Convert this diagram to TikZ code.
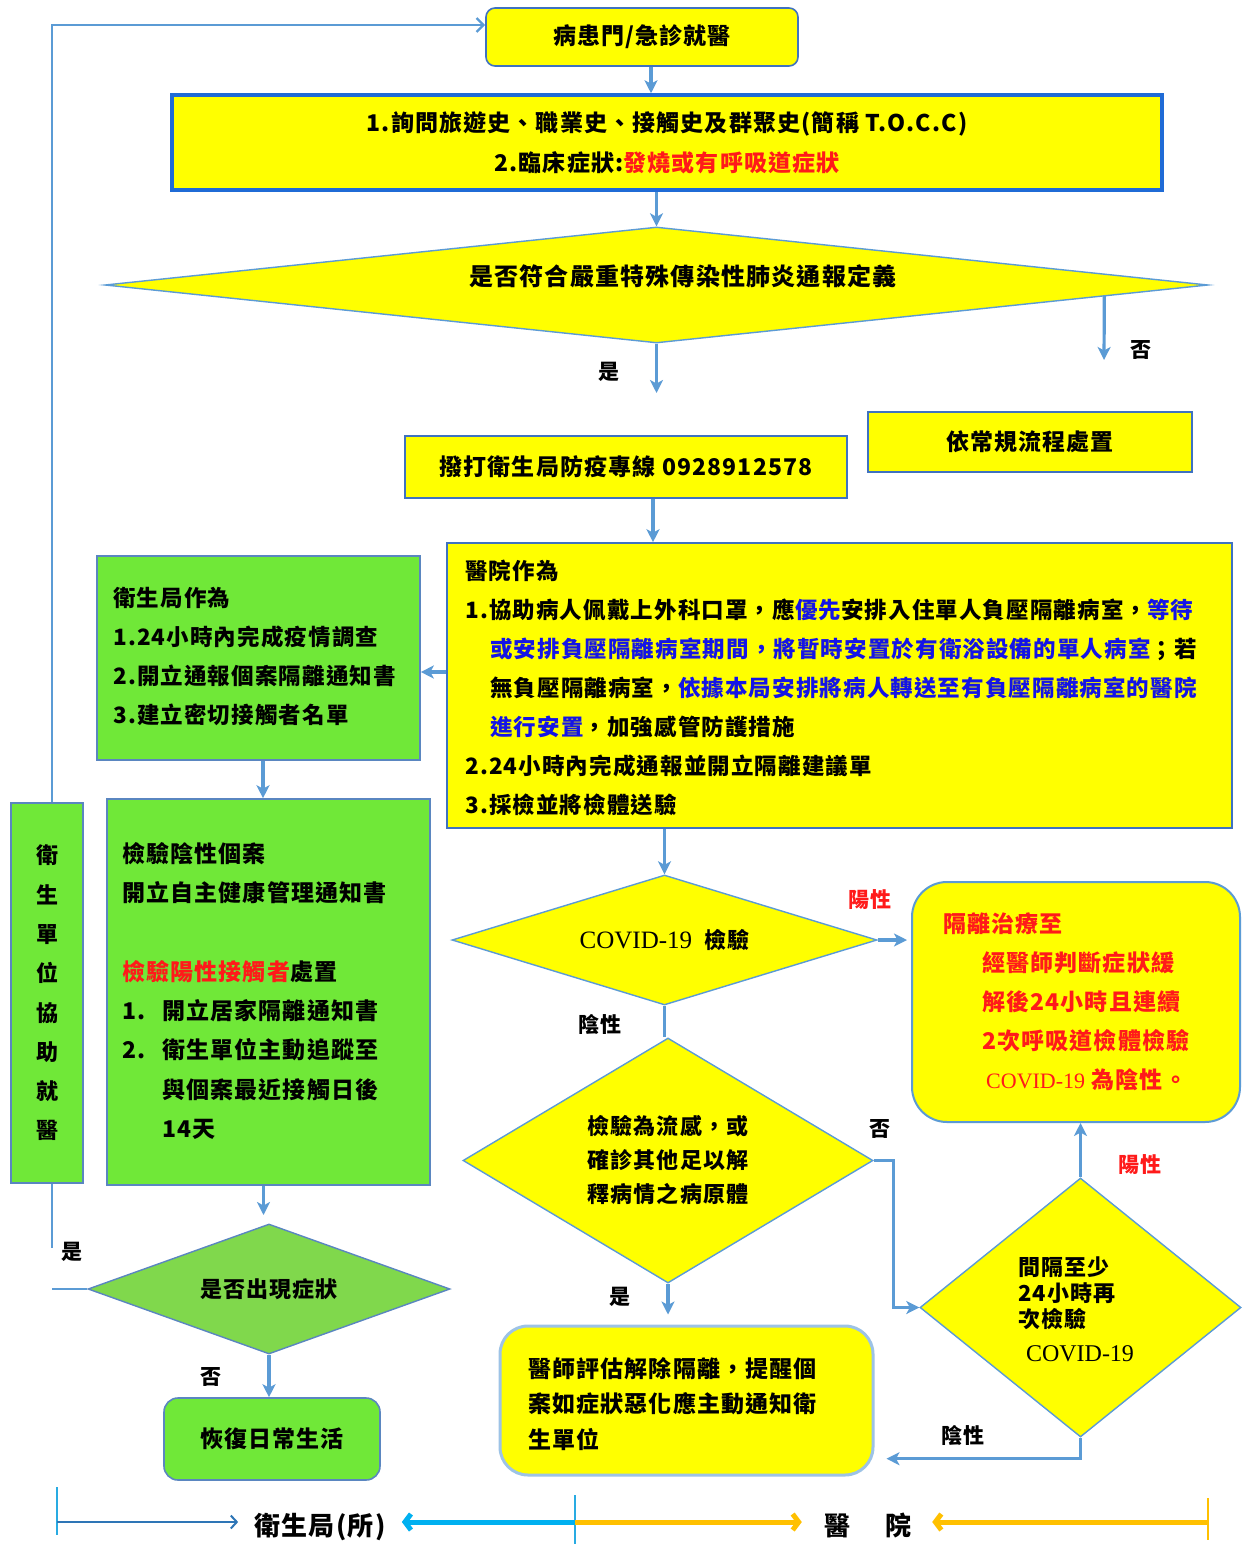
\documentclass[tikz,border=0pt]{standalone}
\usepackage{fontspec}
\setmainfont{Noto Sans CJK TC}[LetterSpace=5]
\newfontfamily\tnr{Liberation Serif}
\usetikzlibrary{shapes.geometric,arrows.meta,calc}
\definecolor{yel}{HTML}{FFFF00}
\definecolor{grn}{HTML}{70E838}
\definecolor{grntwo}{HTML}{80D84C}
\definecolor{bordb}{HTML}{3F72C0}
\definecolor{bordg}{HTML}{5A86C0}
\definecolor{arrc}{HTML}{5B9BD5}
\definecolor{bdark}{HTML}{1F6BD6}
\definecolor{lightb}{HTML}{9DC3E6}
\definecolor{txtblue}{HTML}{1414E6}
\definecolor{txtred}{HTML}{FF1A1A}
\definecolor{cyanl}{HTML}{00B0F0}
\definecolor{tickc}{HTML}{29ABE2}
\definecolor{oran}{HTML}{FFC000}
\definecolor{legblue}{HTML}{2E75B6}
\newcommand{\myfs}[2]{\fontsize{#1}{#2}\selectfont\bfseries}
\begin{document}
\begin{tikzpicture}[x=1pt,y=-1pt,
  ybox/.style={draw=bordb, line width=1.6pt, fill=yel, inner sep=0pt},
  gbox/.style={draw=bordg, line width=1.6pt, fill=grn, inner sep=0pt},
  dia/.style={diamond, draw=arrc, line width=1.4pt, fill=yel, inner sep=0pt},
  arr/.style={draw=arrc, line width=3.2pt, -{Stealth[length=13pt,width=13pt,inset=3.5pt]}},
  conn/.style={draw=arrc, line width=3.2pt},
  arrthin/.style={draw=arrc, line width=2.4pt, -{Straight Barb[length=7pt,width=14pt]}},
  lbl/.style={font=\myfs{21}{21}, inner sep=0pt},
  txt/.style={inner sep=0pt, align=left, anchor=north west}
]
\fill[white] (0,0) rectangle (1243,1544);
\useasboundingbox (0,0) rectangle (1243,1544);

% ---------- top flow ----------
\node[ybox, rounded corners=9pt, minimum width=312pt, minimum height=58pt, font=\myfs{23}{23}] (A) at (642,37) {病患門/急診就醫};
\node[ybox, draw=bdark, line width=3.5pt, minimum width=990pt, minimum height=95pt, align=center, font=\myfs{23}{40}] (B) at (667,142.5)
  {1.詢問旅遊史、職業史、接觸史及群聚史(簡稱 T.O.C.C)\\2.臨床症狀:\textcolor{txtred}{發燒或有呼吸道症狀}};
\node[dia, aspect=9.5, minimum width=1103pt, minimum height=116pt] (C) at (656.5,285) {};
\node[font=\myfs{24}{24}, inner sep=0pt] (Ct) at (683,276) {是否符合嚴重特殊傳染性肺炎通報定義};
\node[ybox, minimum width=442pt, minimum height=62pt, font=\myfs{23}{23}] (D) at (626,467) {撥打衛生局防疫專線 0928912578};
\node[ybox, minimum width=324pt, minimum height=60pt, font=\myfs{23}{23}] (E) at (1030,442) {依常規流程處置};

\coordinate (yesC) at (656.5,393);
\coordinate (noC) at (1104,360);

\draw[arr] ([xshift=9pt]A.south) -- ([xshift=9pt]A.south |- B.north);
\draw[arr] (C.north |- B.south) -- (C.north);
\draw[arr] (C.south) -- (yesC);
\draw[arr] ($(C.south)!0.811!(C.east)$) -- (noC);
\node[lbl] (l1) at (609,372) {是};
\node[lbl] (l2) at (1141,350) {否};

% ---------- hospital actions ----------
\node[ybox, minimum width=785pt, minimum height=285pt] (F) at (839.5,685.5) {};
\node[txt, font=\myfs{22.5}{39}] (Ft) at (465,560) {醫院作為\\
1.協助病人佩戴上外科口罩，應\textcolor{txtblue}{優先}安排入住單人負壓隔離病室，\textcolor{txtblue}{等待}\\
\hspace*{25pt}\textcolor{txtblue}{或安排負壓隔離病室期間，將暫時安置於有衛浴設備的單人病室}；若\\
\hspace*{25pt}無負壓隔離病室，\textcolor{txtblue}{依據本局安排將病人轉送至有負壓隔離病室的醫院}\\
\hspace*{25pt}\textcolor{txtblue}{進行安置}，加強感管防護措施\\
2.24小時內完成通報並開立隔離建議單\\
3.採檢並將檢體送驗};

\draw[arr] ([xshift=27pt]D.south) -- ([xshift=27pt]D.south |- F.north);

% ---------- health bureau ----------
\node[gbox, minimum width=323pt, minimum height=204pt] (G) at (258.5,658) {};
\node[txt, font=\myfs{22.5}{39}] (Gt) at (113,587) {衛生局作為\\1.24小時內完成疫情調查\\2.開立通報個案隔離通知書\\3.建立密切接觸者名單};
\draw[arr] ([yshift=13.5pt]F.west) -- ([yshift=13.5pt]F.west -| G.east);

\node[gbox, minimum width=323pt, minimum height=386pt] (H) at (268.5,992) {};
\node[txt, font=\myfs{23}{39.3}] (Ht) at (122,842) {檢驗陰性個案\\開立自主健康管理通知書\\\mbox{}\\
\textcolor{txtred}{檢驗陽性接觸者}處置\\
\makebox[40pt][l]{1.}開立居家隔離通知書\\
\makebox[40pt][l]{2.}衛生單位主動追蹤至\\
\hspace*{40pt}與個案最近接觸日後\\
\hspace*{40pt}14天};
\draw[arr] ([xshift=4.5pt]G.south) -- ([xshift=4.5pt]G.south |- H.north);

\node[gbox, minimum width=72pt, minimum height=380pt, align=center, font=\myfs{22}{39.3}] (I) at (47,993) {衛\\生\\單\\位\\協\\助\\就\\醫};

\node[dia, aspect=2.78, fill=grntwo, draw=bordg, minimum width=362pt, minimum height=130pt, font=\myfs{22}{22}] (J) at (269,1289) {是否出現症狀};
\node[gbox, rounded corners=14pt, minimum width=216pt, minimum height=82pt, font=\myfs{23}{23}] (K) at (272,1439) {恢復日常生活};

\draw[arr] ([xshift=-5pt]H.south) -- ([xshift=-5pt]H.south |- 0,1215);
\draw[arr] (J.south) -- (J.south |- K.north);
\coordinate (yesJ) at (52,1289);
\coordinate (Iend) at (52,1248);
\draw[conn, line width=2pt] (J.west) -- (yesJ);
\draw[conn, line width=2.4pt] ([xshift=5pt]I.south) -- (Iend);
\draw[arrthin] ([xshift=5pt]I.north) |- ([yshift=12pt]A.west);
\node[lbl] (l3) at (72,1252) {是};
\node[lbl] (l4) at (211,1377) {否};

% ---------- testing ----------
\node[dia, aspect=3.27, minimum width=425pt, minimum height=130pt, font=\myfs{22}{22}] (L) at (664.5,940)
  {{\tnr\mdseries\fontsize{25}{25}\selectfont COVID-19}\hspace{12pt}檢驗};
\node[ybox, draw=arrc, line width=2pt, rounded corners=35pt, minimum width=328pt, minimum height=240pt] (M) at (1076,1002) {};
\node[txt, font=\myfs{23}{39}, text=txtred] (Mt) at (943,912) {隔離治療至\\
\hspace*{39pt}經醫師判斷症狀緩\\
\hspace*{39pt}解後24小時且連續\\
\hspace*{39pt}2次呼吸道檢體檢驗\\
\hspace*{43pt}{\tnr\mdseries\fontsize{22}{39}\selectfont COVID-19} 為陰性。};
\node[dia, aspect=1.67, minimum width=410pt, minimum height=245pt, align=left, font=\myfs{22}{34}] (N) at (668,1160.5)
  {檢驗為流感，或\\確診其他足以解\\釋病情之病原體};
\node[dia, aspect=1.24, minimum width=321pt, minimum height=259pt] (P) at (1080.5,1307.5) {};
\node[txt, font=\myfs{22}{26}] (Pt) at (1018,1257) {間隔至少\\24小時再\\次檢驗};
\node[inner sep=0pt, font=\tnr\fontsize{24}{24}\selectfont] (Pc) at (1080,1354) {COVID-19};
\node[ybox, draw=lightb, line width=3pt, rounded corners=28pt, minimum width=373pt, minimum height=149pt] (O) at (686.5,1400.5) {};
\node[txt, font=\myfs{23}{35.5}] (Ot) at (528,1357) {醫師評估解除隔離，提醒個\\案如症狀惡化應主動通知衛\\生單位};

\draw[arr] (L.north |- F.south) -- (L.north);
\draw[arr] (L.east) -- ([xshift=-4pt]L.east -| M.west);
\draw[conn] (L.south) -- (L.south |- N.north);
\draw[arr] (N.south) -- ([yshift=10pt]N.south |- O.north);
\draw[arr] (N.east) -- ++(20,0) |- (P.west);
\draw[arr] (P.north) -- (P.north |- M.south);
\coordinate (pb) at ($(P.south)+(0,21)$);
\draw[arr] (P.south) -- (pb) -- ([xshift=12pt]pb -| O.east);

\node[lbl, text=txtred] (l5) at (870,900) {陽性};
\node[lbl] (l6) at (600,1025) {陰性};
\node[lbl] (l7) at (880,1129) {否};
\node[lbl] (l8) at (620,1297) {是};
\node[lbl, text=txtred] (l9) at (1140,1165) {陽性};
\node[lbl] (l10) at (963,1436) {陰性};

% ---------- legend ----------
\node[inner sep=0pt, font=\myfs{26}{26}] (LG1) at (320,1527) {衛生局(所)};
\node[inner sep=0pt, font=\myfs{26}{26}] (LG2) at (868,1525) {醫\hspace{36pt}院};
\coordinate (t1) at (57,1522);
\coordinate (t2) at (575,1522);
\coordinate (t3) at (1208,1522);
\draw[tickc, line width=1.5pt] (57,1487) -- (57,1535);
\draw[tickc, line width=1.5pt] (575,1495) -- (575,1544);
\draw[oran, line width=1.5pt] (1208,1498) -- (1208,1540);
\draw[legblue, line width=2pt, -{Straight Barb[length=6pt,width=13pt]}, shorten >=16pt] (t1) -- (t1 -| LG1.west);
\draw[cyanl, line width=5pt, -{Straight Barb[length=6pt,width=16pt]}, shorten >=16pt] (t2) -- (t2 -| LG1.east);
\draw[oran, line width=5pt, -{Straight Barb[length=6pt,width=16pt]}, shorten >=22pt] (t2) -- (t2 -| LG2.west);
\draw[oran, line width=5pt, -{Straight Barb[length=6pt,width=16pt]}, shorten >=20pt] (t3) -- (t3 -| LG2.east);
\end{tikzpicture}
\end{document}
